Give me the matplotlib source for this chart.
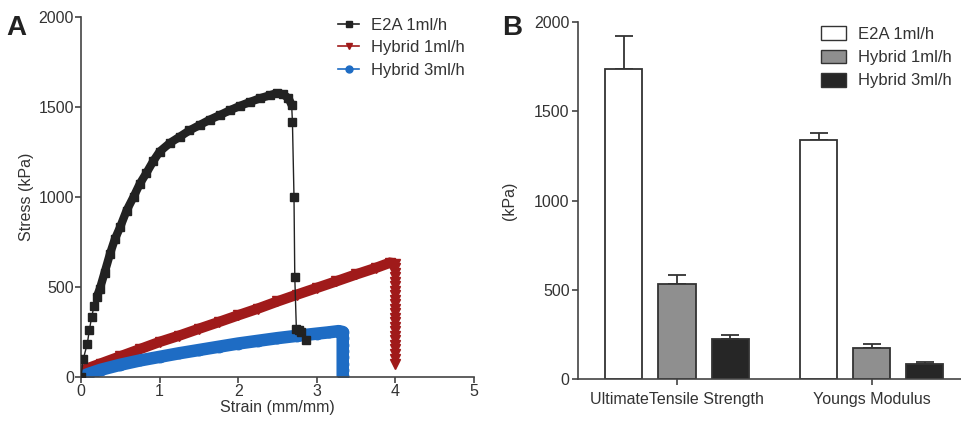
import matplotlib
matplotlib.use("Agg")
import matplotlib.pyplot as plt
from matplotlib.lines import Line2D
from matplotlib.patches import Patch
import numpy as np

plt.rcParams['font.family'] = ['Liberation Sans', 'DejaVu Sans']

# ---------------- Panel A data ----------------
e2a_strain = [0.0, 0.03, 0.08, 0.106, 0.136, 0.165, 0.2, 0.24, 0.3, 0.37, 0.43, 0.5, 0.58, 0.67,
              0.75, 0.83, 0.92, 1.0, 1.13, 1.26, 1.38, 1.51, 1.64, 1.77, 1.9, 2.02, 2.15, 2.28,
              2.4, 2.49, 2.57, 2.64, 2.68, 2.69, 2.71, 2.72, 2.74, 2.77, 2.8, 2.86]
e2a_stress = [0, 102, 185, 260, 334, 393, 445, 490, 580, 686, 765, 835, 925, 1002,
              1075, 1132, 1200, 1252, 1300, 1336, 1370, 1400, 1430, 1456, 1483, 1506, 1528, 1549,
              1565, 1577, 1571, 1549, 1512, 1419, 1002, 557, 269, 262, 250, 204]

h1_strain = [0.0, 0.25, 0.5, 0.75, 1.0, 1.25, 1.5, 1.75, 2.0, 2.25, 2.5, 2.75, 3.0, 3.25,
             3.5, 3.75, 3.93, 4.0, 4.0, 4.0, 4.0, 4.0, 4.0, 4.0, 4.0, 4.0, 4.0, 4.0, 4.0,
             4.0, 4.0, 4.0, 4.0, 4.0, 4.0, 4.0, 4.0, 4.0, 4.0, 4.0]
h1_stress = [35, 75, 115, 155, 195, 230, 268, 305, 343, 380, 420, 458, 495, 532,
             570, 606, 635, 630, 605, 580, 555, 530, 505, 480, 455, 430, 405, 380, 355,
             330, 305, 280, 255, 230, 205, 180, 155, 130, 100, 70]

h3_strain = [0.0, 0.1, 0.25, 0.5, 0.75, 1.0, 1.25, 1.5, 1.75, 2.0, 2.25, 2.5, 2.75, 3.0,
             3.15, 3.28, 3.33, 3.33, 3.33, 3.33, 3.33, 3.33, 3.33, 3.33]
h3_stress = [0, 18, 40, 68, 92, 112, 132, 150, 168, 186, 201, 216, 229, 241,
             248, 255, 250, 215, 180, 145, 110, 75, 40, 8]

# ---------------- Panel B data ----------------
groups = ["UltimateTensile Strength", "Youngs Modulus"]
series_names = ["E2A 1ml/h", "Hybrid 1ml/h", "Hybrid 3ml/h"]
bar_means = [[1740, 1340], [530, 175], [225, 85]]
bar_err = [[180, 40], [55, 20], [20, 10]]

# ---------------- Figure ----------------
fig = plt.figure(figsize=(9.62, 4.26), dpi=100)
axc = '#444444'
tc = '#333333'
fs = 11.5

c_black = '#222222'
c_red = '#a01a1a'
c_blue = '#1e6cc4'

axA = fig.add_axes([0.0842, 0.115, 0.4085, 0.845])
x = np.array(e2a_strain); y = np.array(e2a_stress)
axA.plot(x[6:33], y[6:33], color=c_black, lw=6, solid_capstyle='butt', zorder=3)
axA.plot(x, y, color=c_black, lw=1.0, marker='s', ms=6, zorder=4)

x = np.array(h1_strain); y = np.array(h1_stress)
axA.plot(x[:18], y[:18], color=c_red, lw=7.5, solid_joinstyle='miter', solid_capstyle='butt', zorder=2)
axA.plot(x, y, color=c_red, lw=2.5, marker='v', ms=6.5, linestyle='-', zorder=2)

x = np.array(h3_strain); y = np.array(h3_stress)
axA.plot(x, y, color=c_blue, lw=9, solid_joinstyle='round', solid_capstyle='round', zorder=2)
axA.plot(x, y, color=c_blue, lw=1, marker='o', ms=7.5, zorder=2)

axA.set_xlim(0, 5)
axA.set_ylim(0, 2000)
axA.set_xticks([0, 1, 2, 3, 4, 5])
axA.set_yticks([0, 500, 1000, 1500, 2000])
axA.set_xlabel("Strain (mm/mm)", fontsize=fs, color=tc, labelpad=1)
axA.set_ylabel("Stress (kPa)", fontsize=fs, color=tc, labelpad=3)
for s in ['top', 'right']:
    axA.spines[s].set_visible(False)
for s in ['left', 'bottom']:
    axA.spines[s].set_color(axc)
    axA.spines[s].set_linewidth(1.2)
axA.tick_params(colors=axc, labelcolor=tc, labelsize=fs, length=4, width=1.2, pad=1)

handlesA = [Line2D([], [], color=c_black, marker='s', ms=5, lw=1.2),
            Line2D([], [], color=c_red, marker='v', ms=5, lw=1.2),
            Line2D([], [], color=c_blue, marker='o', ms=5, lw=1.2)]
axA.legend(handlesA, series_names, loc='upper right', bbox_to_anchor=(1.015, 1.04),
           frameon=False, fontsize=12, handlelength=1.3, labelspacing=0.45,
           handletextpad=0.7, labelcolor=tc)

fig.text(0.007, 0.918, "A", fontsize=20, fontweight='bold', color='#222222')

# ---------------- Panel B ----------------
axB = fig.add_axes([0.6008, 0.1103, 0.3992, 0.8377])
fills = ['white', '#8f8f8f', '#262626']
offsets = [-0.272, 0.0, 0.272]
width = 0.19
xg = np.arange(len(groups))
for i in range(3):
    axB.bar(xg + offsets[i], bar_means[i], width=width, color=fills[i],
            edgecolor='#333333', linewidth=1.3, zorder=2, label=series_names[i])
    axB.errorbar(xg + offsets[i], bar_means[i],
                 yerr=[np.zeros(len(groups)), bar_err[i]], fmt='none',
                 ecolor='#333333', elinewidth=1.3, capsize=6.8, capthick=1.3, zorder=1)

axB.set_xlim(-0.508, 1.462)
axB.set_ylim(0, 2000)
axB.set_yticks([0, 500, 1000, 1500, 2000])
axB.set_xticks(xg)
axB.set_xticklabels(groups)
axB.set_ylabel("(kPa)", fontsize=fs, color=tc, labelpad=12)
for s in ['top', 'right']:
    axB.spines[s].set_visible(False)
for s in ['left', 'bottom']:
    axB.spines[s].set_color(axc)
    axB.spines[s].set_linewidth(1.2)
axB.tick_params(colors=axc, labelcolor=tc, labelsize=fs, length=4, width=1.2, pad=2)
axB.tick_params(axis='x', pad=5)

handlesB = [Patch(facecolor=fills[i], edgecolor='#333333', linewidth=1.0) for i in range(3)]
axB.legend(handlesB, series_names, loc='upper right', bbox_to_anchor=(1.012, 1.03),
           frameon=False, fontsize=12, handlelength=1.5, handleheight=0.9,
           labelspacing=0.45, handletextpad=0.7, labelcolor=tc)

fig.text(0.522, 0.918, "B", fontsize=20, fontweight='bold', color='#222222')

fig.savefig("out.png", dpi=100)
